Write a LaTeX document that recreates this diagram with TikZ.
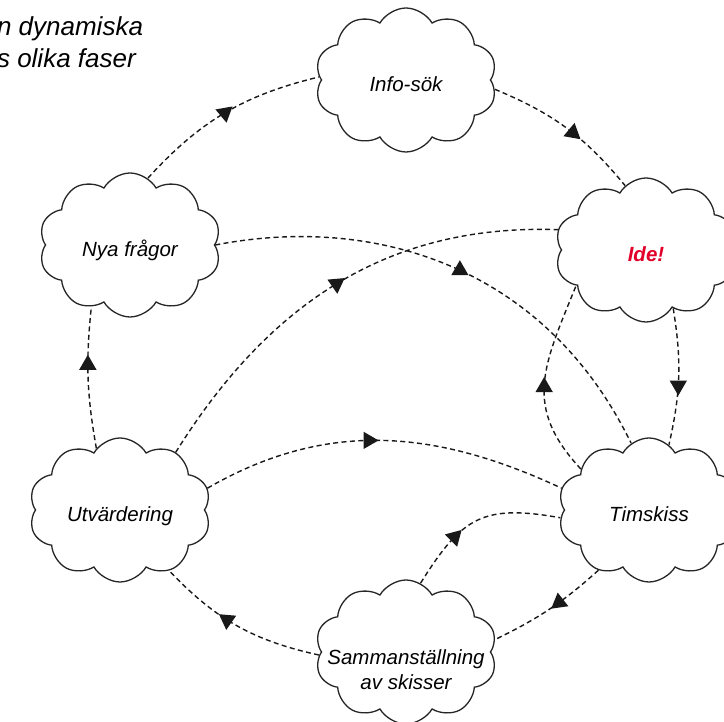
\documentclass[tikz,border=0pt]{standalone}
\usepackage{fontspec}
\setmainfont{Liberation Sans}
\usetikzlibrary{shapes.symbols,shapes.geometric}
\definecolor{idered}{RGB}{226,0,43}

\begin{document}
\begin{tikzpicture}[x=0.5pt,y=0.5pt,
  phase/.style={cloud,cloud puffs=10,cloud puff arc=120,aspect=1.25,
    draw=black!85,line width=0.65pt,fill=white,
    minimum width=91pt,minimum height=72pt,inner sep=0pt,align=center,
    text height=12pt,text depth=0pt,
    font=\fontsize{10.25}{12.5}\selectfont\itshape},
  flow/.style={draw=black!90,line width=0.7pt,dash pattern=on 2.5pt off 1.7pt},
  tri/.style={regular polygon,regular polygon sides=3,fill=black!90,
    inner sep=0pt,minimum size=10pt}]
  \path[use as bounding box,clip] (0,0) rectangle (724,722);
  \node[align=left,anchor=base west,font=\fontsize{13}{16}\selectfont\itshape]
    (title) at (-10,654) {n dynamiska\\s olika faser};
  \node[phase] (info) at (406,642) {Info-sök};
  \node[phase] (nya)  at (130,477) {Nya frågor};
  \node[phase,text=idered,font=\fontsize{10.25}{12.5}\selectfont\bfseries\itshape]
    (ide) at (646,472) {Ide!};
  \node[phase] (utv)  at (120,212) {Utvärdering};
  \node[phase] (tim)  at (649,212) {Timskiss};
  \node[phase,inner xsep=-30pt,inner ysep=-15pt,text height=38pt]
    (samm) at (406,70) {Sammanställning\\av skisser};
  \path[flow]
  (nya.75)   edge [bend left=17] node[tri,pos=.5,rotate=190] {} (info.178)
  (info.-6)  edge [bend left=14] node[tri,pos=.55,rotate=-10] {} (ide.108)
  (ide.-65)  edge [bend left=11] node[tri,pos=.57,rotate=180] {} (tim.73)
  (tim.149)  edge [out=133,in=248,looseness=1.2] node[tri,pos=.48] {} (ide.207)
  (nya.0)    edge [out=11,in=116,out looseness=.91,in looseness=1.09]
                  node[tri,pos=.52] {} (tim.105)
  (utv.46)   edge [out=58,in=178] node[tri,pos=.5,rotate=185] {} (ide.167)
  (utv.14)   edge [out=30,in=155] node[tri,pos=.46,rotate=-90] {} (tim.166)
  (samm.78)  edge [out=58,in=170,looseness=1.3] node[tri,pos=.3,rotate=195] {} (tim.185)
  (tim.230)  edge [bend left=8] node[tri,pos=.4,rotate=8] {} (samm.8)
  (samm.182) edge [bend left=17] node[tri,pos=.57,rotate=175] {} (utv.-51)
  (utv.111)  edge [bend left=8] node[tri,pos=.6] {} (nya.238);
\end{tikzpicture}
\end{document}
